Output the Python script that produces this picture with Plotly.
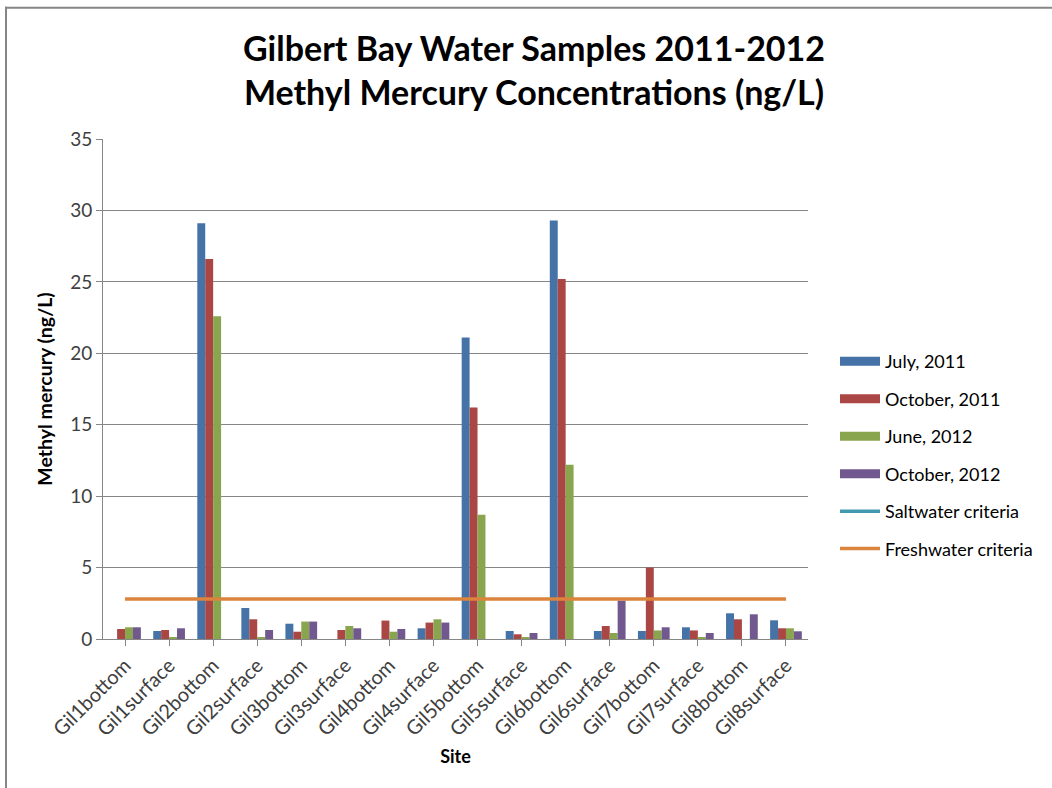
import plotly.graph_objects as go

sites = ["Gil1bottom", "Gil1surface", "Gil2bottom", "Gil2surface", "Gil3bottom", "Gil3surface",
         "Gil4bottom", "Gil4surface", "Gil5bottom", "Gil5surface", "Gil6bottom", "Gil6surface",
         "Gil7bottom", "Gil7surface", "Gil8bottom", "Gil8surface"]

july_2011 = [None, 0.56, 29.1, 2.17, 1.07, None, None, 0.75, 21.1, 0.56, 29.3, 0.56, 0.56, 0.82, 1.80, 1.31]
october_2011 = [0.70, 0.63, 26.6, 1.38, 0.51, 0.63, 1.29, 1.15, 16.2, 0.33, 25.2, 0.91, 5.0, 0.60, 1.38, 0.75]
june_2012 = [0.82, 0.14, 22.6, 0.14, 1.22, 0.91, 0.51, 1.38, 8.7, 0.14, 12.2, 0.42, 0.60, 0.14, None, 0.75]
october_2012 = [0.82, 0.75, None, 0.63, 1.22, 0.75, 0.70, 1.15, None, 0.42, None, 2.69, 0.82, 0.42, 1.73, 0.54]
saltwater_criteria = [None] * len(sites)
freshwater_criteria = [2.8] * len(sites)

bar_series = [
    ("July, 2011", july_2011, "#4572A7"),
    ("October, 2011", october_2011, "#AA4643"),
    ("June, 2012", june_2012, "#89A54E"),
    ("October, 2012", october_2012, "#71588F"),
]
line_series = [
    ("Saltwater criteria", saltwater_criteria, "#4198AF"),
    ("Freshwater criteria", freshwater_criteria, "#DB843D"),
]

font_family = "Lato, Open Sans, sans-serif"

fig = go.Figure()
for name, vals, color in bar_series:
    fig.add_trace(go.Bar(x=sites, y=vals, name=name, showlegend=False,
                         marker=dict(color=color, line=dict(width=0))))
for name, vals, color in line_series:
    fig.add_trace(go.Scatter(x=sites, y=vals, name=name, mode="lines", showlegend=False,
                             line=dict(color=color, width=3.5)))

L, R, T, B = 103, 808, 138.5, 639
W, H = 1052, 788
pw, ph = R - L, B - T

def px(x):
    return (x - L) / pw

def py(y):
    return (B - y) / ph

shapes = [
    dict(type="line", xref="paper", yref="paper", x0=px(6), x1=px(6), y0=py(6), y1=py(800),
         line=dict(color="#868686", width=2)),
    dict(type="line", xref="paper", yref="paper", x0=px(5), x1=px(1060), y0=py(7), y1=py(7),
         line=dict(color="#868686", width=2)),
]
annotations = []
legend_y0, legend_dy = 361, 37.5
entries = [(n, c, "bar") for n, _, c in bar_series] + [(n, c, "line") for n, _, c in line_series]
for i, (name, color, kind) in enumerate(entries):
    yc = legend_y0 + i * legend_dy
    if kind == "bar":
        shapes.append(dict(type="rect", xref="paper", yref="paper",
                           x0=px(840), x1=px(880), y0=py(yc - 4.5), y1=py(yc + 4.5),
                           fillcolor=color, line=dict(width=0)))
    else:
        shapes.append(dict(type="line", xref="paper", yref="paper",
                           x0=px(840), x1=px(880), y0=py(yc), y1=py(yc),
                           line=dict(color=color, width=3.5)))
    annotations.append(dict(text=name, xref="paper", yref="paper", x=px(883), y=py(yc),
                            xanchor="left", yanchor="middle", showarrow=False,
                            font=dict(size=18, color="#000000", family=font_family)))

fig.update_layout(
    width=W, height=H,
    margin=dict(l=L, r=W - R, t=T, b=H - B, pad=0),
    paper_bgcolor="white", plot_bgcolor="white",
    barmode="group", bargap=0.28, bargroupgap=0,
    showlegend=False,
    font=dict(family=font_family, color="#404040", size=18),
    title=dict(text="<b>Gilbert Bay Water Samples 2011-2012<br>Methyl Mercury Concentrations (ng/L)</b>",
               x=534 / W, xanchor="center", xref="container", y=1 - 61 / H, yanchor="middle",
               font=dict(size=34, color="black", family=font_family)),
    xaxis=dict(
        showgrid=False, showline=True, linecolor="#868686", linewidth=1,
        ticks="outside", ticklen=6, tickcolor="#868686",
        tickangle=-45, tickfont=dict(size=20, color="#404040"),
        title=dict(text="<b>Site</b>", font=dict(size=18, color="black"), standoff=11),
        range=[-0.5, len(sites) - 0.5],
    ),
    yaxis=dict(
        range=[0, 35], dtick=5, showgrid=True, gridcolor="#868686", gridwidth=1,
        showline=True, linecolor="#868686", linewidth=1,
        ticks="outside", ticklen=6, tickcolor="#868686",
        tickfont=dict(size=19, color="#404040"),
        title=dict(text="<b>Methyl mercury (ng/L)</b>", font=dict(size=19.5, color="black"), standoff=12),
        zeroline=False,
    ),
    shapes=shapes,
    annotations=annotations,
)

fig.write_html("out.html", config={"displayModeBar": False},
               post_script="document.body.style.margin='0';document.body.style.overflow='hidden';")
